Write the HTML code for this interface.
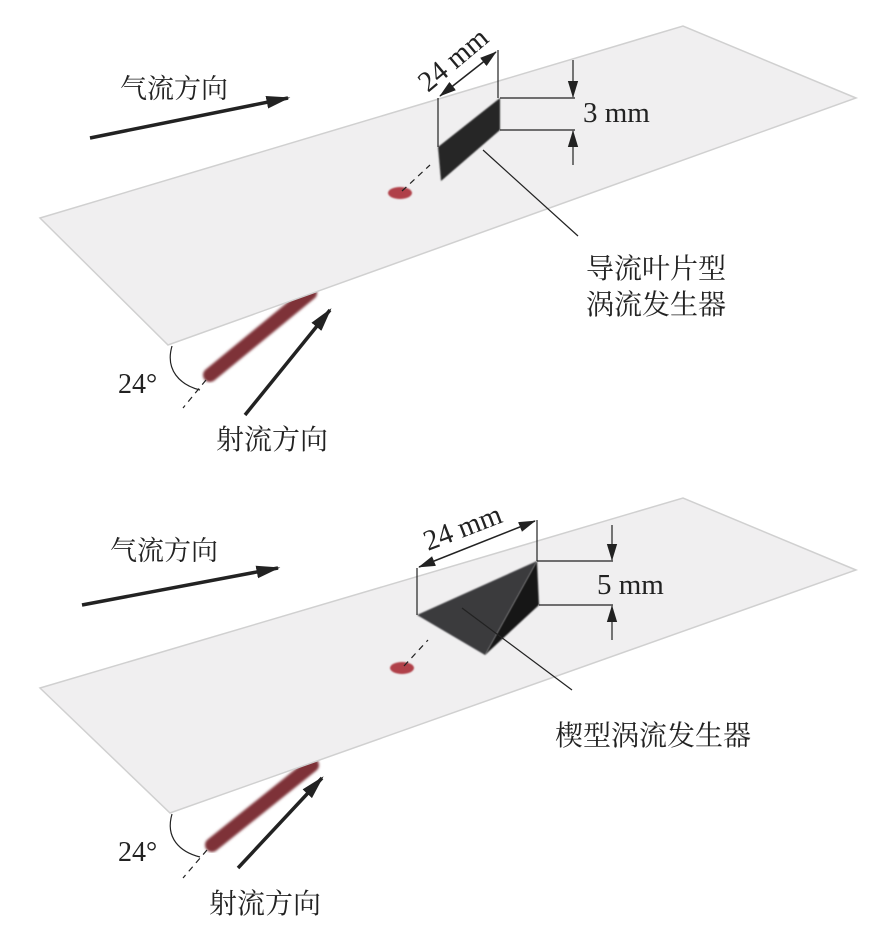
<!DOCTYPE html>
<html><head><meta charset="utf-8"><style>
html,body{margin:0;padding:0;background:#fff}
svg{display:block}
text{font-family:"Liberation Serif","Noto Serif CJK SC","Noto Sans CJK SC",serif;fill:#222}
</style></head><body>
<svg width="893" height="938" viewBox="0 0 893 938" xmlns="http://www.w3.org/2000/svg">
<defs>
<marker id="ah" viewBox="0 0 10 10" preserveAspectRatio="none" refX="9" refY="5" markerWidth="24" markerHeight="16" markerUnits="userSpaceOnUse" orient="auto-start-reverse"><path d="M0,1 L10,5 L0,9 z" fill="#222"/></marker>
<marker id="as" viewBox="0 0 10 10" preserveAspectRatio="none" refX="9.5" refY="5" markerWidth="17" markerHeight="13" markerUnits="userSpaceOnUse" orient="auto-start-reverse"><path d="M0,1 L10,5 L0,9 z" fill="#222"/></marker>
<filter id="bl"><feGaussianBlur stdDeviation="1.2"/></filter>
<filter id="bl2"><feGaussianBlur stdDeviation="0.8"/></filter>
</defs>

<!-- ===== TOP ===== -->
<line x1="210" y1="375" x2="310" y2="293" stroke="#7e3238" stroke-width="14" stroke-linecap="round" filter="url(#bl)"/>
<polygon points="40,218 683,26 856,98 168,345" fill="#f0eff0" stroke="#d0d0d0" stroke-width="1.5"/>
<text x="120" y="98" font-size="27">气流方向</text>
<line x1="90" y1="138" x2="288" y2="98" stroke="#222" stroke-width="3.5" marker-end="url(#ah)"/>
<ellipse cx="400" cy="193" rx="12" ry="6" fill="#b0404a" filter="url(#bl2)"/>
<line x1="402" y1="191" x2="430" y2="165" stroke="#222" stroke-width="1.2" stroke-dasharray="6,5"/>
<polygon points="438,147 500,98 500,130 441,181" fill="#262626" filter="url(#bl2)"/>
<line x1="438" y1="98" x2="438" y2="147" stroke="#222" stroke-width="1.2"/>
<line x1="498" y1="50" x2="498" y2="98" stroke="#222" stroke-width="1.2"/>
<line x1="440" y1="96" x2="496" y2="52" stroke="#222" stroke-width="1.5" marker-start="url(#as)" marker-end="url(#as)"/>
<text x="0" y="0" font-size="29" transform="translate(428,93) rotate(-40)">24 mm</text>
<line x1="500" y1="98" x2="575" y2="98" stroke="#222" stroke-width="1.2"/>
<line x1="500" y1="130" x2="575" y2="130" stroke="#222" stroke-width="1.2"/>
<line x1="573" y1="60" x2="573" y2="97" stroke="#222" stroke-width="1.2" marker-end="url(#as)"/>
<line x1="573" y1="165" x2="573" y2="131" stroke="#222" stroke-width="1.2" marker-end="url(#as)"/>
<text x="583" y="122" font-size="29">3 mm</text>
<line x1="483" y1="150" x2="578" y2="236" stroke="#222" stroke-width="1.2"/>
<text x="586" y="278" font-size="28">导流叶片型</text>
<text x="586" y="314" font-size="28">涡流发生器</text>
<path d="M172,346 C165,370 180,385 200,390" fill="none" stroke="#222" stroke-width="1.2"/>
<line x1="206" y1="380" x2="183" y2="408" stroke="#222" stroke-width="1.2" stroke-dasharray="6,5"/>
<text x="118" y="393" font-size="28">24°</text>
<line x1="245" y1="415" x2="330" y2="310" stroke="#222" stroke-width="3.5" marker-end="url(#ah)"/>
<text x="216" y="449" font-size="28">射流方向</text>

<!-- ===== BOTTOM ===== -->
<line x1="212" y1="845" x2="312" y2="765" stroke="#7e3238" stroke-width="14" stroke-linecap="round" filter="url(#bl)"/>
<polygon points="40,688 683,498 856,570 170,813" fill="#f0eff0" stroke="#d0d0d0" stroke-width="1.5"/>
<text x="110" y="560" font-size="27">气流方向</text>
<line x1="82" y1="605" x2="278" y2="568" stroke="#222" stroke-width="3.5" marker-end="url(#ah)"/>
<ellipse cx="402" cy="668" rx="12" ry="6" fill="#b0404a" filter="url(#bl2)"/>
<line x1="404" y1="666" x2="428" y2="640" stroke="#222" stroke-width="1.2" stroke-dasharray="6,5"/>
<polygon points="417,615 537,561 485,655" fill="#3b3b3d" filter="url(#bl2)"/>
<polygon points="537,561 539,605 485,655" fill="#141414" filter="url(#bl2)"/>
<line x1="417" y1="568" x2="417" y2="615" stroke="#222" stroke-width="1.2"/>
<line x1="537" y1="520" x2="537" y2="561" stroke="#222" stroke-width="1.2"/>
<line x1="419" y1="567" x2="535" y2="521" stroke="#222" stroke-width="1.5" marker-start="url(#as)" marker-end="url(#as)"/>
<text x="0" y="0" font-size="29" transform="translate(428,551) rotate(-21)">24 mm</text>
<line x1="537" y1="561" x2="613" y2="561" stroke="#222" stroke-width="1.2"/>
<line x1="539" y1="605" x2="613" y2="605" stroke="#222" stroke-width="1.2"/>
<line x1="612" y1="525" x2="612" y2="560" stroke="#222" stroke-width="1.2" marker-end="url(#as)"/>
<line x1="612" y1="640" x2="612" y2="606" stroke="#222" stroke-width="1.2" marker-end="url(#as)"/>
<text x="597" y="594" font-size="29">5 mm</text>
<line x1="462" y1="608" x2="572" y2="690" stroke="#222" stroke-width="1.2"/>
<text x="555" y="745" font-size="28">楔型涡流发生器</text>
<path d="M172,814 C165,838 180,852 200,857" fill="none" stroke="#222" stroke-width="1.2"/>
<line x1="207" y1="850" x2="183" y2="878" stroke="#222" stroke-width="1.2" stroke-dasharray="6,5"/>
<text x="118" y="861" font-size="28">24°</text>
<line x1="238" y1="868" x2="322" y2="778" stroke="#222" stroke-width="3.5" marker-end="url(#ah)"/>
<text x="209" y="913" font-size="28">射流方向</text>
</svg>
</body></html>
